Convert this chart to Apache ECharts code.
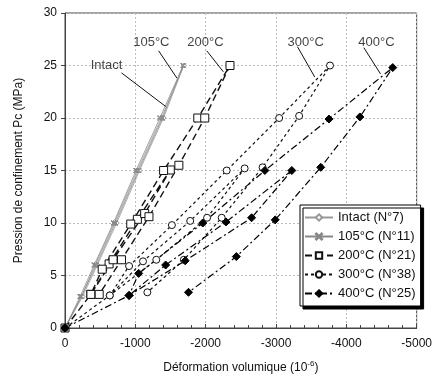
<!DOCTYPE html>
<html><head><meta charset="utf-8">
<script src="https://cdn.jsdelivr.net/npm/echarts@6/dist/echarts.min.js"></script>
<style>html,body{margin:0;padding:0;background:#fff}#c{width:435px;height:379px}</style>
</head><body><div id="c"></div>
<script>
// Data: [volumetric strain (10^-6), confining pressure (MPa)]
var intactData = [[0,0],[-236,3.0],[-435,6.1],[-708,10.1],[-1029,15.0],[-1370,20.0],[-1690,25.0],[-1400,20.0],[-1060,15.0],[-735,10.0],[-460,6.0],[-250,3.0],[0,0]];
var t105Data = [[0,0],[-215,3.0],[-415,6.0],[-690,10.0],[-1010,15.0],[-1350,20.0],[-1680,25.0],[-1385,20.0],[-1045,15.0],[-718,10.0],[-445,6.0],[-232,3.0],[0,0]];
var t200Data = [[0,0],[-368,3.2],[-627,6.1],[-1029,10.35],[-1497,15.05],[-1133,10.9],[-684,6.5],[-368,3.2],[-529,5.6],[-935,9.9],[-1402,15.0],[-1888,20.0],[-2346,25.0],[-1987,20.0],[-1619,15.5],[-1194,10.6],[-803,6.5],[-486,3.2]];
var t300Data = [[0,0],[-637,3.1],[-1109,6.35],[-1780,10.2],[-2554,15.2],[-2020,10.5],[-1298,6.5],[-637,3.1],[-911,5.9],[-1520,9.8],[-2299,15.0],[-3045,20.0],[-3768,25.0],[-3329,20.2],[-2809,15.3],[-2228,10.5],[-1690,6.5],[-1171,3.4]];
var t400Data = [[0,0],[-911,3.1],[-1431,6.0],[-2290,10.1],[-3225,15.0],[-2653,10.5],[-1709,6.4],[-911,3.1],[-1048,5.2],[-1959,10.0],[-2842,15.0],[-3754,19.9],[-4660,24.8],[-4193,20.1],[-3636,15.3],[-2989,10.3],[-2436,6.8],[-1756,3.4]];
var seriesNames = ['Intact (N°7)','105°C (N°11)','200°C (N°21)','300°C (N°38)','400°C (N°25)'];
// Annotation labels and arrows (data coordinates)
var annoLabels = [['Intact',-591,25.0],['105°C',-1228,27.2],['200°C',-1997,27.2],['300°C',-3423,27.2],['400°C',-4429,27.2]];
var annoArrows = [[[-803,24.3],[-1431,21.1]],[[-1331,26.4],[-1591,23.8]],[[-2016,26.4],[-2252,24.4]],[[-3305,26.8],[-3551,23.9]],[[-4249,26.7],[-4486,24.2]]];

var FONT = 'Liberation Sans';
var crossPath = 'path://M0,1L1,0L5,4L9,0L10,1L6,5L10,9L9,10L5,6L1,10L0,9L4,5Z';
var chart = echarts.init(document.getElementById('c'));
function mk(name, data, color, width, type, symbol, size, fill){
  return {name:name, type:'line', data:data, symbol:symbol, symbolSize:size, showAllSymbol:true,
    lineStyle:{color:color, width:width, type:type},
    itemStyle:{color:fill, borderColor:color, borderWidth:1}, z:3, animation:false};
}
var series = [
  mk(seriesNames[0], intactData, '#999', 0.8, 'solid', 'diamond', 5, '#fff'),
  mk(seriesNames[1], t105Data, '#888', 0.8, 'solid', crossPath, 5, '#999'),
  mk(seriesNames[2], t200Data, '#111', 1.4, [7,4], 'rect', 8, '#fff'),
  mk(seriesNames[3], t300Data, '#111', 1.2, [3,3], 'circle', 7, '#fff'),
  mk(seriesNames[4], t400Data, '#000', 1.2, [7,3,2,3], 'diamond', 8, '#000')
];
series.push({type:'scatter', name:'anno', data:annoLabels.map(function(a){return {value:[a[1],a[2]], name:a[0]};}),
  symbolSize:0, silent:true, animation:false,
  label:{show:true, position:'inside', formatter:'{b}', fontFamily:FONT, fontSize:13, color:'#111'},
  markLine:{silent:true, animation:false, symbol:['none','arrow'], symbolSize:[0,7],
    lineStyle:{color:'#111', width:1, type:'solid'}, label:{show:false},
    data:annoArrows.map(function(a){return [{coord:a[0]},{coord:a[1]}];})}
});
chart.setOption({
  backgroundColor:'#fff',
  animation:false,
  textStyle:{fontFamily:FONT},
  grid:{left:65, right:17, top:13, bottom:51, show:true, borderColor:'#444', borderWidth:1},
  legend:{data:seriesNames, orient:'vertical', left:300, top:205, itemWidth:28, itemHeight:8, itemGap:6,
    backgroundColor:'#fff', borderColor:'#000', borderWidth:1, padding:[6,5,6,4],
    shadowColor:'#000', shadowOffsetX:3, shadowOffsetY:3, shadowBlur:0,
    textStyle:{fontFamily:FONT, fontSize:13, color:'#111'}},
  xAxis:{type:'value', min:-5000, max:0, interval:1000, inverse:true,
    name:'Déformation volumique (10{sup|-6})', nameLocation:'middle', nameGap:32,
    nameTextStyle:{fontFamily:FONT, fontSize:12, color:'#111', rich:{sup:{fontSize:8, verticalAlign:'top', padding:[0,0,8,0]}}},
    axisLine:{lineStyle:{color:'#444'}},
    axisTick:{show:true, inside:true, length:4, lineStyle:{color:'#444'}},
    minorTick:{show:true, splitNumber:5, length:3, lineStyle:{color:'#444'}},
    axisLabel:{fontFamily:FONT, fontSize:12, color:'#111', margin:10, formatter:function(v){return String(v);}},
    splitLine:{show:true, lineStyle:{color:'#bbb', type:[2,2]}}},
  yAxis:{type:'value', min:0, max:30, interval:5,
    name:'Pression de confinement Pc (MPa)', nameLocation:'middle', nameGap:40, nameRotate:90,
    nameTextStyle:{fontFamily:FONT, fontSize:12, color:'#111'},
    axisLine:{show:true, lineStyle:{color:'#444'}},
    axisTick:{show:true, length:4, lineStyle:{color:'#444'}},
    axisLabel:{fontFamily:FONT, fontSize:12, color:'#111', margin:8},
    splitLine:{show:true, lineStyle:{color:'#bbb', type:[2,2]}}},
  series:series
});
</script></body></html>
